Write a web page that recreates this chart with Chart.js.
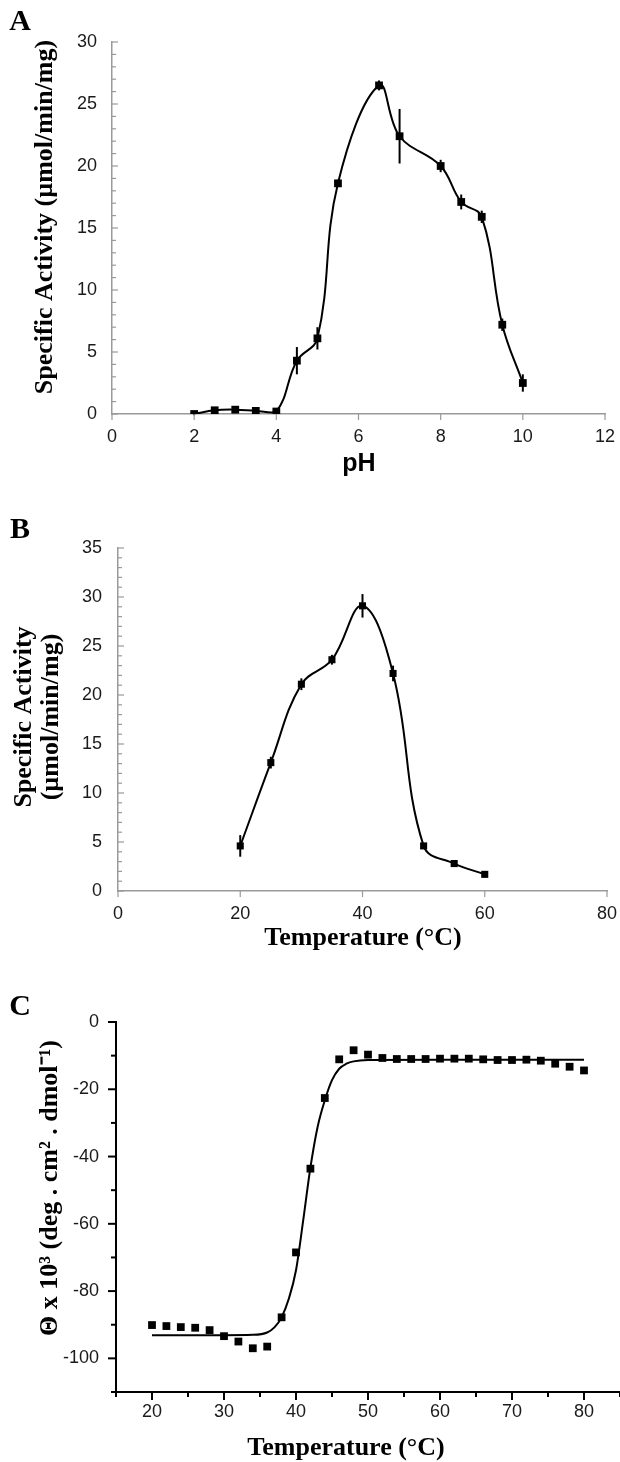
<!DOCTYPE html>
<html>
<head>
<meta charset="utf-8">
<script src="https://cdn.jsdelivr.net/npm/chart.js@4.4.1/dist/chart.umd.min.js"></script>
<style>
  html, body { margin: 0; padding: 0; background: #fff; overflow: hidden; }
  #wrap { position: relative; width: 620px; height: 1462px; }
  canvas { position: absolute; left: 0; }
</style>
</head>
<body>
<div id="wrap">
  <canvas id="chartA" width="620" height="490" style="top:0px"></canvas>
  <canvas id="chartB" width="620" height="470" style="top:490px"></canvas>
  <canvas id="chartC" width="620" height="502" style="top:960px"></canvas>
</div>
<script>
// ---- values ----
// A: pH profile
const phValues   = [2, 2.5, 3, 3.5, 4, 4.5, 5, 5.5, 6.5, 7, 8, 8.5, 9, 9.5, 10];
const phActivity = [0, 0.3, 0.35, 0.25, 0.2, 4.3, 6.1, 18.6, 26.5, 22.4, 20.0, 17.1, 15.9, 7.2, 2.5];
const phError    = [0.1, 0.1, 0.1, 0.1, 0.1, 1.1, 0.9, 0.3, 0.4, 2.2, 0.5, 0.6, 0.5, 0.5, 0.7];
const phTicks    = [0, 2, 4, 6, 8, 10, 12];

// B: temperature profile
const tempValues   = [20, 25, 30, 35, 40, 45, 50, 55, 60];
const tempActivity = [4.6, 13.1, 21.1, 23.6, 29.1, 22.2, 4.6, 2.8, 1.7];
const tempError    = [1.1, 0.6, 0.6, 0.5, 1.2, 0.8, 0.3, 0.2, 0.2];

// C: CD melting curve (points + fitted curve)
const cdTemp  = [20, 22, 24, 26, 28, 30, 32, 34, 36, 38, 40, 42, 44, 46, 48, 50,
                 52, 54, 56, 58, 60, 62, 64, 66, 68, 70, 72, 74, 76, 78, 80];
const cdTheta = [-90.1, -90.4, -90.7, -90.9, -91.6, -93.4, -95.0, -97.0, -96.5, -87.8,
                 -68.5, -43.6, -22.6, -11.1, -8.4, -9.7, -10.7, -11.0, -11.0, -11.0,
                 -10.9, -10.9, -10.9, -11.1, -11.3, -11.3, -11.2, -11.5, -12.4, -13.3, -14.4];
const fitTemp  = [20, 30, 34, 36, 37, 38, 39, 40, 41, 42, 43, 44, 45, 46, 47, 48, 50, 60, 80];
const fitTheta = [-93.1, -93.1, -93.0, -92.3, -90.8, -87.8, -82.3, -73.8, -59.0, -43.3,
                  -31.2, -23.3, -17.3, -13.9, -12.4, -11.7, -11.3, -11.2, -11.2];

const AXIS_GRAY = '#9a9a9a';
const TICK_FONT = { family: "'Liberation Sans', Arial, sans-serif", size: 18 };
const SERIF_B = "bold 26px 'Liberation Serif', 'Times New Roman', serif";

function toPoints(xs, ys) {
    return xs.map((x, i) => ({ x: x, y: ys[i] }));
}

// small tick marks drawn through the scales (inside or outside the axis)
function tickMarks(axes) {
    return {
        id: 'tickMarks',
        afterDraw(chart) {
            const ctx = chart.ctx;
            axes.forEach(a => {
                const s = chart.scales[a.id];
                ctx.save();
                ctx.strokeStyle = a.color;
                ctx.lineWidth = a.width;
                for (let v = s.min; v <= s.max + 1e-9; v += a.minor) {
                    const r = v / a.major;
                    const isMajor = Math.abs(r - Math.round(r)) < 1e-6;
                    const len = isMajor ? a.majorLen : a.minorLen;
                    const p = s.getPixelForValue(v);
                    ctx.beginPath();
                    if (s.isHorizontal()) {
                        ctx.moveTo(p, s.top);
                        ctx.lineTo(p, s.top + len * a.dir);
                    } else {
                        ctx.moveTo(s.right, p);
                        ctx.lineTo(s.right + len * a.dir, p);
                    }
                    ctx.stroke();
                }
                ctx.restore();
            });
        }
    };
}

// vertical error bars, no caps
const errorBars = {
    id: 'errorBars',
    afterDatasetsDraw(chart) {
        const { ctx, scales: { x, y } } = chart;
        chart.data.datasets.forEach(ds => {
            if (!ds.errors) return;
            ctx.save();
            ctx.strokeStyle = '#000';
            ctx.lineWidth = 2;
            ds.data.forEach((pt, j) => {
                const e = ds.errors[j];
                const px = x.getPixelForValue(pt.x);
                ctx.beginPath();
                ctx.moveTo(px, y.getPixelForValue(pt.y - e));
                ctx.lineTo(px, y.getPixelForValue(pt.y + e));
                ctx.stroke();
            });
            ctx.restore();
        });
    }
};

// panel letters and axis titles
function panelText(items) {
    return {
        id: 'panelText',
        afterDraw(chart) {
            const ctx = chart.ctx;
            items.forEach(t => {
                ctx.save();
                ctx.font = t.font;
                ctx.fillStyle = '#000';
                ctx.textAlign = t.align || 'center';
                ctx.textBaseline = 'middle';
                ctx.translate(t.x, t.y);
                if (t.rotate) ctx.rotate(-Math.PI / 2);
                ctx.fillText(t.text, 0, 0);
                ctx.restore();
            });
        }
    };
}

function baseOptions(pad, xCfg, yCfg) {
    return {
        responsive: false,
        animation: false,
        events: [],
        layout: { padding: pad, autoPadding: false },
        plugins: { legend: { display: false }, tooltip: { enabled: false } },
        scales: { x: xCfg, y: yCfg }
    };
}

function axis(min, max, step, size, isX, opts) {
    return {
        type: 'linear',
        min: min,
        max: max,
        afterFit: s => {
            if (isX) s.height = size; else s.width = size;
            // keep the chart area exactly where the layout padding puts it
            s.paddingLeft = s.paddingRight = s.paddingTop = s.paddingBottom = 0;
        },
        grid: { display: false, drawTicks: false },
        border: { color: opts.color, width: opts.width },
        ticks: {
            stepSize: step,
            padding: opts.pad,
            color: '#1a1a1a',
            font: TICK_FONT,
            autoSkip: false,
            maxRotation: 0,
            callback: opts.cb || (v => v)
        }
    };
}

// ---- A ----
new Chart(document.getElementById('chartA'), {
    type: 'scatter',
    data: {
        datasets: [{
            data: toPoints(phValues, phActivity),
            errors: phError,
            showLine: true,
            tension: 0.4,
            borderColor: '#000',
            borderWidth: 2,
            pointStyle: 'rect',
            pointRadius: 5.5,
            pointBackgroundColor: '#000',
            pointBorderWidth: 0
        }]
    },
    options: baseOptions({ top: 42, right: 15, left: 0, bottom: 0 },
        axis(phTicks[0], phTicks[phTicks.length - 1], 2, 76, true, { color: AXIS_GRAY, width: 1.5, pad: 12 }),
        axis(0, 30, 5, 112, false, { color: AXIS_GRAY, width: 1.5, pad: 15 })),
    plugins: [errorBars,
        tickMarks([
            { id: 'x', minor: 2, major: 2, majorLen: 6, minorLen: 6, dir: 1, color: AXIS_GRAY, width: 1.2 },
            { id: 'y', minor: 1, major: 5, majorLen: 6, minorLen: 4, dir: 1, color: AXIS_GRAY, width: 1.2 }
        ]),
        panelText([
            { text: 'A', x: 20, y: 22, font: "bold 30px 'Liberation Serif', serif" },
            { text: 'Specific Activity (\u00b5mol/min/mg)', x: 45, y: 217, font: SERIF_B, rotate: true },
            { text: 'pH', x: 359, y: 464, font: "bold 25px 'Liberation Sans', Arial, sans-serif" }
        ])]
});

// ---- B ----
new Chart(document.getElementById('chartB'), {
    type: 'scatter',
    data: {
        datasets: [{
            data: toPoints(tempValues, tempActivity),
            errors: tempError,
            showLine: true,
            tension: 0.4,
            borderColor: '#000',
            borderWidth: 2,
            pointStyle: 'rect',
            pointRadius: 5,
            pointBackgroundColor: '#000',
            pointBorderWidth: 0
        }]
    },
    options: baseOptions({ top: 58, right: 13, left: 0, bottom: 0 },
        axis(0, 80, 20, 69, true, { color: AXIS_GRAY, width: 1.5, pad: 12 }),
        axis(0, 35, 5, 118, false, { color: AXIS_GRAY, width: 1.5, pad: 16 })),
    plugins: [errorBars,
        tickMarks([
            { id: 'x', minor: 20, major: 20, majorLen: 6, minorLen: 6, dir: 1, color: AXIS_GRAY, width: 1.2 },
            { id: 'y', minor: 1, major: 5, majorLen: 6, minorLen: 4, dir: 1, color: AXIS_GRAY, width: 1.2 }
        ]),
        panelText([
            { text: 'B', x: 20, y: 40, font: "bold 30px 'Liberation Serif', serif" },
            { text: 'Specific Activity', x: 24, y: 227, font: SERIF_B, rotate: true },
            { text: '(\u00b5mol/min/mg)', x: 51, y: 227, font: SERIF_B, rotate: true },
            { text: 'Temperature (\u00b0C)', x: 363, y: 448, font: SERIF_B }
        ])]
});

// ---- C ----
new Chart(document.getElementById('chartC'), {
    type: 'scatter',
    data: {
        datasets: [{
            data: toPoints(fitTemp, fitTheta),
            showLine: true,
            cubicInterpolationMode: 'monotone',
            borderColor: '#000',
            borderWidth: 2,
            pointRadius: 0
        }, {
            data: toPoints(cdTemp, cdTheta),
            showLine: false,
            pointStyle: 'rect',
            pointRadius: 5.5,
            pointBackgroundColor: '#000',
            pointBorderWidth: 0
        }]
    },
    options: baseOptions({ top: 62, right: 0, left: 0, bottom: 0 },
        axis(15, 85, 5, 70, true, { color: '#000', width: 2, pad: 9,
            cb: v => (v % 10 === 0 && v >= 20 && v <= 80) ? v : '' }),
        axis(-110, 0, 10, 116, false, { color: '#000', width: 2, pad: 17,
            cb: v => (v % 20 === 0) ? v : '' })),
    plugins: [
        tickMarks([
            { id: 'x', minor: 5, major: 10, majorLen: 8, minorLen: 5, dir: 1, color: '#000', width: 2 },
            { id: 'y', minor: 10, major: 20, majorLen: 8, minorLen: 5, dir: -1, color: '#000', width: 2 }
        ]),
        panelText([
            { text: 'C', x: 20, y: 47, font: "bold 30px 'Liberation Serif', serif" },
            { text: '\u0398 x 10\u00b3 (deg . cm\u00b2 . dmol\u207b\u00b9)', x: 50, y: 228, font: SERIF_B, rotate: true },
            { text: 'Temperature (\u00b0C)', x: 346, y: 488, font: SERIF_B }
        ])]
});
</script>
</body>
</html>
